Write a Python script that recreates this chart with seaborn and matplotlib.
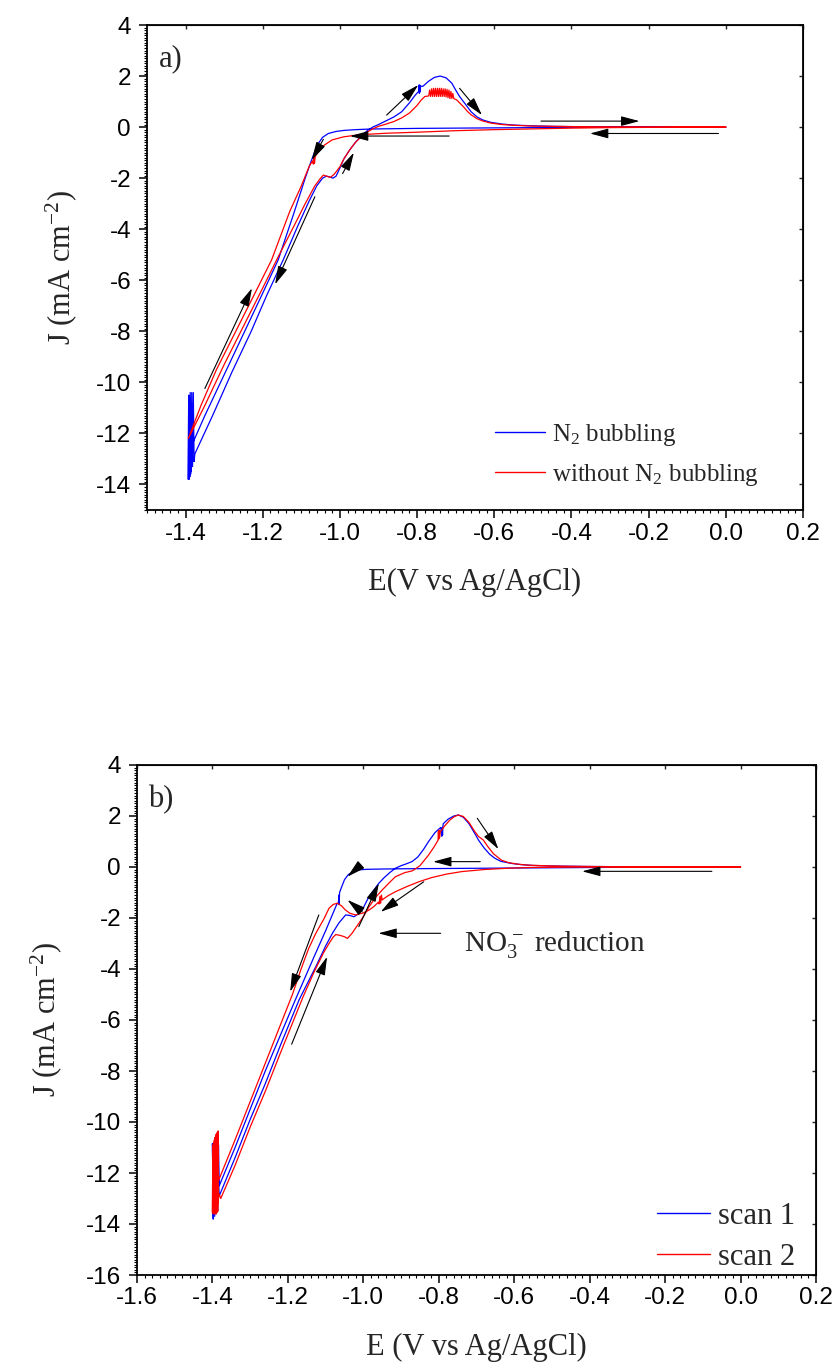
import numpy as np
import pandas as pd
import matplotlib
matplotlib.use("Agg")
import matplotlib.pyplot as plt
import seaborn as sns
from matplotlib.ticker import MultipleLocator, FormatStrFormatter
from matplotlib.lines import Line2D

# ---------------- data: panel a ----------------
a_labels = ["N$_2$ bubbling", "without N$_2$ bubbling"]

# N2 bubbling (blue) : cathodic sweep, gas-bubble noise at -1.4 V, anodic sweep
a_n2_cath_E = [0.0, -0.1, -0.2, -0.3, -0.4, -0.5, -0.6, -0.7, -0.8, -0.85, -0.9, -0.93, -0.96, -0.99,
               -1.01, -1.03, -1.045, -1.055, -1.065, -1.075, -1.09, -1.12, -1.16, -1.2, -1.25, -1.3,
               -1.35, -1.385]
a_n2_cath_J = [0.0, 0.0, 0.0, 0.0, -0.01, -0.02, -0.03, -0.04, -0.05, -0.06, -0.07, -0.08, -0.10, -0.13,
               -0.17, -0.25, -0.40, -0.62, -0.95, -1.35, -2.0, -3.4, -5.2, -6.5, -8.1, -9.7,
               -11.3, -12.5]
a_n2_burst_E = [-1.386, -1.387, -1.388, -1.389, -1.390, -1.391, -1.392, -1.393, -1.392, -1.390,
                -1.388, -1.386, -1.384, -1.382, -1.380, -1.378]
a_n2_burst_J = [-10.8, -13.6, -10.7, -13.7, -10.6, -13.8, -10.6, -13.8, -10.5, -13.6,
                -10.4, -13.5, -10.4, -13.3, -10.4, -13.1]
a_n2_anod_E = [-1.376, -1.33, -1.28, -1.23, -1.19, -1.147, -1.11, -1.08, -1.06, -1.045, -1.035, -1.027,
               -1.018, -1.01, -1.0, -0.99, -0.975, -0.96, -0.945, -0.93, -0.915, -0.9, -0.88, -0.86,
               -0.84, -0.82, -0.805, -0.796, -0.795, -0.794, -0.793, -0.792, -0.791, -0.785, -0.77,
               -0.755, -0.74, -0.725, -0.71, -0.7, -0.69, -0.68, -0.67, -0.66, -0.645, -0.63, -0.61,
               -0.58, -0.55, -0.5, -0.45, -0.4, -0.3, -0.2, -0.1, 0.0]
a_n2_anod_J = [-12.8, -11.3, -9.6, -8.0, -6.6, -5.2, -3.9, -2.9, -2.3, -2.0, -1.92, -1.95,
               -2.0, -1.92, -1.6, -1.25, -0.9, -0.6, -0.35, -0.15, 0.0, 0.1, 0.25, 0.4,
               0.6, 0.95, 1.25, 1.4, 1.65, 1.32, 1.65, 1.38, 1.6, 1.6, 1.8,
               1.95, 2.0, 1.93, 1.72, 1.45, 1.2, 1.0, 0.8, 0.6, 0.4, 0.28, 0.19,
               0.12, 0.08, 0.05, 0.03, 0.02, 0.01, 0.01, 0.0, 0.0]

# without N2 bubbling (red)
a_air_cath_E = [0.0, -0.1, -0.2, -0.3, -0.4, -0.5, -0.6, -0.7, -0.8, -0.88, -0.95, -0.99, -1.02, -1.04,
                -1.052, -1.06, -1.064, -1.066, -1.067, -1.069, -1.071, -1.08, -1.1, -1.13, -1.177,
                -1.22, -1.27, -1.32, -1.36, -1.393]
a_air_cath_J = [0.0, 0.0, -0.01, -0.02, -0.04, -0.07, -0.10, -0.14, -0.20, -0.24, -0.30, -0.38, -0.50,
                -0.70, -0.90, -1.05, -1.15, -1.42, -1.18, -1.45, -1.32, -1.55, -2.3, -3.3, -5.2,
                -6.5, -8.0, -9.5, -10.9, -12.2]
a_air_anod1_E = [-1.393, -1.35, -1.3, -1.25, -1.2, -1.164, -1.12, -1.09, -1.065, -1.05, -1.043, -1.035,
                 -1.025, -1.015, -1.0, -0.99, -0.975, -0.96, -0.945, -0.93, -0.915, -0.9, -0.88, -0.86,
                 -0.84, -0.82, -0.8, -0.79, -0.78]
a_air_anod1_J = [-12.2, -10.9, -9.3, -7.8, -6.3, -5.2, -3.9, -3.0, -2.3, -2.0, -1.88, -1.92,
                 -1.97, -1.85, -1.55, -1.25, -0.9, -0.6, -0.38, -0.2, -0.07, 0.03, 0.12, 0.22,
                 0.36, 0.55, 0.85, 1.05, 1.2]
a_air_burst_E = [-0.770, -0.7675, -0.765, -0.7625, -0.760, -0.7575, -0.755, -0.7525, -0.750, -0.7475,
                 -0.745, -0.7425, -0.740, -0.7375, -0.735, -0.7325, -0.730, -0.7275, -0.725, -0.7225,
                 -0.720, -0.7175, -0.715, -0.7125, -0.710, -0.7075, -0.705]
a_air_burst_J = [1.22, 1.45, 1.2, 1.5, 1.2, 1.52, 1.2, 1.52, 1.2, 1.52,
                 1.2, 1.52, 1.2, 1.52, 1.2, 1.5, 1.2, 1.5, 1.18, 1.48,
                 1.15, 1.45, 1.12, 1.4, 1.12, 1.32, 1.12]
a_air_anod2_E = [-0.697, -0.69, -0.68, -0.67, -0.66, -0.645, -0.63, -0.61, -0.58, -0.55, -0.5, -0.4,
                 -0.3, -0.2, -0.1, 0.0]
a_air_anod2_J = [1.06, 0.95, 0.8, 0.62, 0.48, 0.33, 0.24, 0.16, 0.1, 0.07, 0.04, 0.02,
                 0.01, 0.0, 0.0, 0.0]

# ---------------- data: panel b ----------------
b_labels = ["scan 1", "scan 2"]

b_s1_cath_E = [0.0, -0.1, -0.2, -0.3, -0.4, -0.5, -0.6, -0.7, -0.8, -0.9, -0.95, -0.99, -1.01, -1.025,
               -1.04, -1.05, -1.058, -1.063, -1.064, -1.065, -1.066, -1.07, -1.08, -1.1, -1.13, -1.18,
               -1.22, -1.26, -1.3, -1.34, -1.382]
b_s1_cath_J = [0.0, 0.0, 0.0, -0.01, -0.02, -0.03, -0.04, -0.05, -0.06, -0.07, -0.08, -0.09, -0.11,
               -0.16, -0.3, -0.5, -0.8, -1.0, -1.48, -1.1, -1.4, -1.45, -1.8, -2.5, -3.5, -5.2,
               -6.6, -8.0, -9.5, -11.0, -12.5]
b_s1_burst_E = [-1.384, -1.386, -1.388, -1.390, -1.392, -1.394, -1.396, -1.398, -1.400, -1.398,
                -1.394, -1.390, -1.386]
b_s1_burst_J = [-10.9, -13.5, -10.9, -13.6, -10.9, -13.7, -10.85, -13.8, -10.85, -13.8,
                -11.0, -13.5, -11.5]
b_s1_anod_E = [-1.382, -1.34, -1.3, -1.26, -1.22, -1.17, -1.126, -1.1, -1.082, -1.065, -1.047, -1.036,
               -1.025, -1.014, -1.003, -0.995, -0.985, -0.972, -0.959, -0.945, -0.93, -0.915, -0.9,
               -0.885, -0.871, -0.855, -0.84, -0.827, -0.81, -0.795, -0.792, -0.791, -0.790, -0.789,
               -0.788, -0.775, -0.76, -0.748, -0.735, -0.72, -0.71, -0.7, -0.695, -0.68, -0.665,
               -0.651, -0.635, -0.607, -0.58, -0.55, -0.5, -0.4, -0.3, -0.2, -0.1, 0.0]
b_s1_anod_J = [-12.9, -11.4, -9.9, -8.5, -7.0, -5.2, -3.91, -3.1, -2.6, -2.2, -1.88, -1.9,
               -1.95, -1.85, -1.69, -1.45, -1.16, -0.9, -0.64, -0.42, -0.22, -0.05, 0.05,
               0.13, 0.21, 0.4, 0.7, 1.0, 1.35, 1.55, 1.2, 1.55, 1.25, 1.6,
               1.7, 1.88, 2.0, 2.04, 1.95, 1.7, 1.45, 1.2, 1.06, 0.75, 0.5,
               0.34, 0.22, 0.14, 0.09, 0.06, 0.04, 0.02, 0.01, 0.0, 0.0, 0.0]

b_s2_cath_E = [0.0, -0.1, -0.2, -0.3, -0.4, -0.5, -0.56, -0.62, -0.68, -0.739, -0.78, -0.82, -0.853,
               -0.885, -0.915, -0.935, -0.95, -0.952, -0.954, -0.956, -0.958, -0.96, -0.972, -0.985,
               -1.0, -1.02, -1.035, -1.048, -1.058, -1.069, -1.08, -1.091, -1.105, -1.126, -1.145,
               -1.165, -1.188, -1.22, -1.26, -1.3, -1.34, -1.384]
b_s2_cath_J = [0.0, 0.0, 0.0, 0.0, 0.0, -0.01, -0.02, -0.05, -0.1, -0.18, -0.28, -0.42, -0.58,
               -0.77, -0.97, -1.13, -1.29, -1.1, -1.42, -1.15, -1.45, -1.38, -1.55, -1.69,
               -1.8, -1.88, -1.82, -1.68, -1.52, -1.42, -1.47, -1.62, -2.05, -2.6, -3.2,
               -4.0, -5.0, -6.2, -7.7, -9.2, -10.7, -12.3]
b_s2_burst_E = [-1.385, -1.386, -1.387, -1.388, -1.389, -1.390, -1.391, -1.392, -1.393, -1.394,
                -1.395, -1.396, -1.397, -1.398, -1.399, -1.400, -1.399, -1.397, -1.395, -1.393,
                -1.391, -1.389, -1.387, -1.385, -1.383]
b_s2_burst_J = [-10.35, -13.5, -10.4, -13.55, -10.45, -13.6, -10.5, -13.6, -10.6, -13.6,
                -10.7, -13.6, -10.8, -13.6, -10.9, -13.55, -11.0, -13.5, -11.2, -13.4,
                -11.6, -13.3, -12.0, -13.2, -12.8]
b_s2_anod_E = [-1.378, -1.34, -1.3, -1.26, -1.22, -1.19, -1.16, -1.13, -1.105, -1.091, -1.08, -1.073,
               -1.062, -1.051, -1.042, -1.03, -1.012, -0.998, -0.985, -0.968, -0.95, -0.93, -0.915,
               -0.89, -0.87, -0.85, -0.827, -0.812, -0.802, -0.801, -0.800, -0.799, -0.798, -0.796,
               -0.785, -0.77, -0.758, -0.748, -0.735, -0.72, -0.705, -0.695, -0.682, -0.67, -0.655,
               -0.634, -0.615, -0.59, -0.56, -0.52, -0.47, -0.4, -0.3, -0.2, -0.1, 0.0]
b_s2_anod_J = [-13.0, -11.7, -10.2, -8.8, -7.3, -6.2, -5.1, -4.1, -3.35, -3.0, -2.75, -2.65,
               -2.68, -2.73, -2.8, -2.6, -2.21, -1.9, -1.56, -1.2, -0.9, -0.6, -0.38,
               -0.22, -0.15, 0.05, 0.47, 0.8, 1.05, 1.4, 1.1, 1.45, 1.15, 1.38,
               1.6, 1.85, 1.98, 2.04, 1.98, 1.75, 1.4, 1.2, 1.06, 0.8, 0.52,
               0.27, 0.17, 0.11, 0.07, 0.05, 0.03, 0.02, 0.01, 0.0, 0.0, 0.0]

# sweep-direction arrows (tail E, tail J, head E, head J)
a_arrows = [(-0.879, 0.47, -0.797, 1.65), (-0.69, 1.52, -0.632, 0.47),
            (-0.479, 0.235, -0.224, 0.235), (-0.019, -0.25, -0.352, -0.25),
            (-0.717, -0.35, -0.974, -0.35), (-1.043, -0.48, -1.073, -1.29),
            (-0.993, -1.82, -0.964, -1.0), (-1.065, -2.73, -1.168, -6.16),
            (-1.35, -10.24, -1.228, -6.31)]
b_arrows = [(-0.698, 1.91, -0.642, 0.7), (-0.69, 0.21, -0.815, 0.21),
            (-0.076, -0.17, -0.42, -0.17), (-1.007, 0.08, -1.042, -0.38),
            (-1.003, -1.76, -1.042, -1.29), (-1.012, -2.34, -0.959, -0.64),
            (-0.84, -0.58, -0.954, -1.76), (-0.795, -2.6, -0.96, -2.6),
            (-1.118, -1.88, -1.194, -4.89), (-1.19, -6.95, -1.096, -3.52)]

# ---------------- style ----------------
sns.set_style("ticks")
plt.rcParams["font.family"] = ["Liberation Serif", "DejaVu Serif"]
plt.rcParams["mathtext.fontset"] = "custom"
plt.rcParams["mathtext.rm"] = "Liberation Serif"
plt.rcParams["mathtext.it"] = "Liberation Serif:italic"
plt.rcParams["mathtext.bf"] = "Liberation Serif:bold"
plt.rcParams["axes.unicode_minus"] = False


def build(parts, label):
    E = np.concatenate([np.asarray(p[0], float) for p in parts])
    J = np.concatenate([np.asarray(p[1], float) for p in parts])
    return pd.DataFrame({"E": E, "J": J, "series": label})


dfA = pd.concat([
    build([(a_n2_cath_E, a_n2_cath_J), (a_n2_burst_E, a_n2_burst_J), (a_n2_anod_E, a_n2_anod_J)], a_labels[0]),
    build([(a_air_cath_E, a_air_cath_J), (a_air_anod1_E, a_air_anod1_J), (a_air_burst_E, a_air_burst_J),
           (a_air_anod2_E, a_air_anod2_J)], a_labels[1]),
], ignore_index=True)
dfB = pd.concat([
    build([(b_s1_cath_E, b_s1_cath_J), (b_s1_burst_E, b_s1_burst_J), (b_s1_anod_E, b_s1_anod_J)], b_labels[0]),
    build([(b_s2_cath_E, b_s2_cath_J), (b_s2_burst_E, b_s2_burst_J), (b_s2_anod_E, b_s2_anod_J)], b_labels[1]),
], ignore_index=True)

fig = plt.figure(figsize=(8.39, 13.72), dpi=100)
axA = fig.add_axes([147 / 839, 1 - 510 / 1372, 656 / 839, 485 / 1372])
axB = fig.add_axes([137 / 839, 1 - 1275 / 1372, 679 / 839, 510 / 1372])

colors = ["#0000ff", "#ff0000"]
sns.lineplot(data=dfA, x="E", y="J", hue="series", hue_order=a_labels, palette=colors,
             sort=False, estimator=None, linewidth=0.9, ax=axA, legend=False)
sns.lineplot(data=dfB, x="E", y="J", hue="series", hue_order=b_labels, palette=colors,
             sort=False, estimator=None, linewidth=0.9, ax=axB, legend=False)


def style_axis(ax, xlim, ylim, xlabel, ylabel, ylabelpad):
    ax.set_xlim(*xlim)
    ax.set_ylim(*ylim)
    ax.xaxis.set_major_locator(MultipleLocator(0.2))
    ax.xaxis.set_minor_locator(MultipleLocator(0.02))
    ax.yaxis.set_major_locator(MultipleLocator(2))
    ax.yaxis.set_minor_locator(MultipleLocator(0.1))
    ax.xaxis.set_major_formatter(FormatStrFormatter("%.1f"))
    ax.yaxis.set_major_formatter(FormatStrFormatter("%d"))
    for s in ax.spines.values():
        s.set_visible(True)
        s.set_linewidth(1.3)
        s.set_color("black")
    ax.tick_params(which="major", direction="out", length=5.5, width=1.1, color="black",
                   labelsize=17.5, labelfontfamily="Liberation Sans", labelcolor="black",
                   top=False, right=False)
    ax.tick_params(which="minor", direction="out", length=2.5, width=0.8, color="black",
                   top=False, right=False)
    ax.tick_params(axis="x", which="major", pad=3.5)
    ax.tick_params(axis="y", which="major", pad=6)
    secx = ax.secondary_xaxis("top")
    secx.xaxis.set_major_locator(MultipleLocator(0.2))
    secx.tick_params(direction="in", length=3, width=1.0, labeltop=False)
    secy = ax.secondary_yaxis("right")
    secy.yaxis.set_major_locator(MultipleLocator(2))
    secy.tick_params(direction="in", length=3, width=1.0, labelright=False)
    ax.set_xlabel(xlabel, fontsize=22, labelpad=17, family="Liberation Serif")
    ax.set_ylabel(ylabel, fontsize=22, labelpad=ylabelpad, family="Liberation Serif")
    ax.grid(False)


style_axis(axA, (-1.5, 0.2), (-15, 4), "E(V vs Ag/AgCl)", "J (mA cm$^{-2}$)", 12)
style_axis(axB, (-1.6, 0.2), (-16, 4), "E (V vs Ag/AgCl)", "J (mA cm$^{-2}$)", 16)

for ax, arrows in ((axA, a_arrows), (axB, b_arrows)):
    for (x0, y0, x1, y1) in arrows:
        ax.annotate("", xy=(x1, y1), xytext=(x0, y0),
                    arrowprops=dict(arrowstyle="-|>,head_length=0.75,head_width=0.2",
                                    color="black", lw=0.8, mutation_scale=15,
                                    shrinkA=0, shrinkB=0))

axA.text(0.018, 0.93, "a)", transform=axA.transAxes, fontsize=22, va="center", ha="left")
axB.text(0.016, 0.933, "b)", transform=axB.transAxes, fontsize=22, va="center", ha="left")
axB.text(-0.733, -3.05, "NO$_3^{\\,-}$ reduction", fontsize=21, va="center", ha="left")

handlesA = [Line2D([], [], color=c, lw=1.0) for c in colors]
axA.legend(handlesA, a_labels, loc="center left", bbox_to_anchor=(0.53, 0.114),
           frameon=False, prop={"family": "Liberation Serif", "size": 18},
           handlelength=2.0, handletextpad=0.3, labelspacing=0.55,
           borderpad=0, borderaxespad=0)
handlesB = [Line2D([], [], color=c, lw=1.0) for c in colors]
axB.legend(handlesB, b_labels, loc="center left", bbox_to_anchor=(0.766, 0.0745),
           frameon=False, prop={"family": "Liberation Serif", "size": 22},
           handlelength=1.73, handletextpad=0.25, labelspacing=0.4,
           borderpad=0, borderaxespad=0)

fig.savefig("out.png", dpi=100)
